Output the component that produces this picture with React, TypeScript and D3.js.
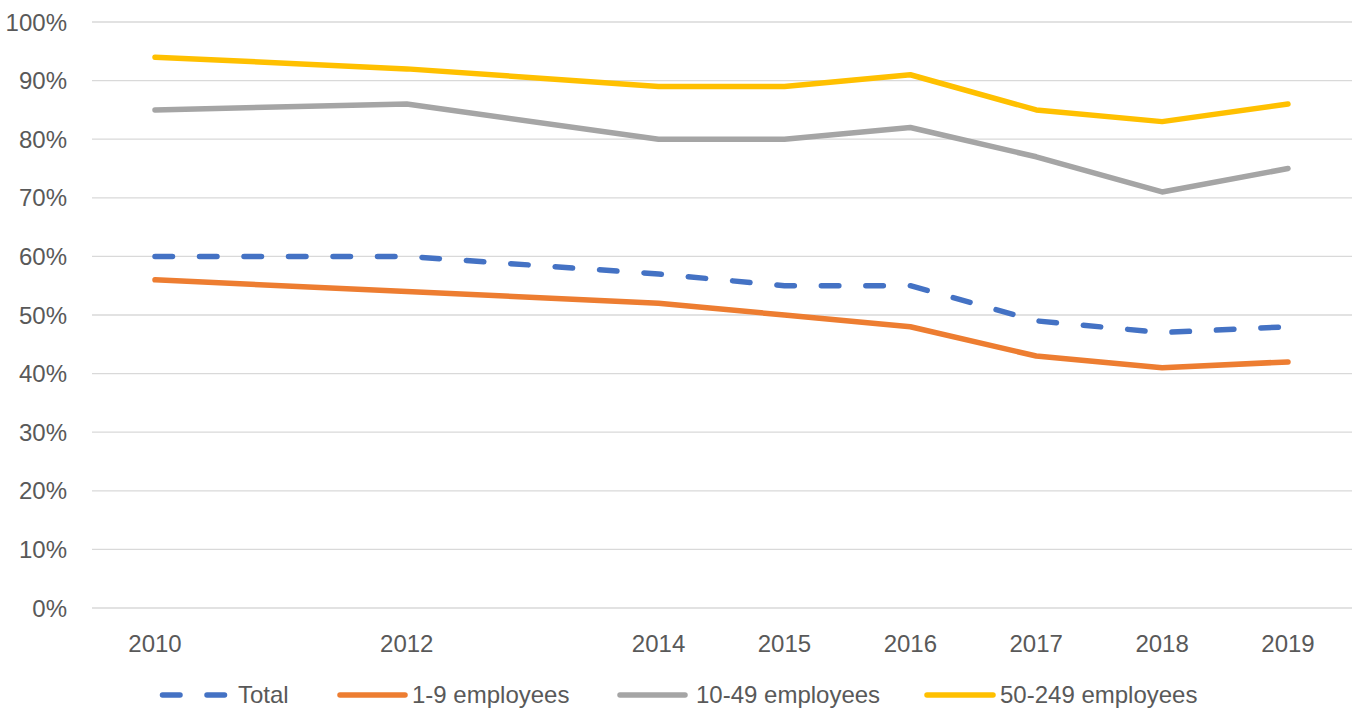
import * as d3 from "d3";
import React from "react";

const years = [2010, 2012, 2014, 2015, 2016, 2017, 2018, 2019];
const total = [60, 60, 57, 55, 55, 49, 47, 48];
const micro = [56, 54, 52, 50, 48, 43, 41, 42];
const small = [85, 86, 80, 80, 82, 77, 71, 75];
const medium = [94, 92, 89, 89, 91, 85, 83, 86];
const yTicks = [0, 10, 20, 30, 40, 50, 60, 70, 80, 90, 100];
const seriesNames = ["Total", "1-9 employees", "10-49 employees", "50-249 employees"];
const seriesColors = ["#4472C4", "#ED7D31", "#A5A5A5", "#FFC000"];

const W = 1352,
  H = 708;
const FONT = "'Liberation Sans', Arial, sans-serif";
const TEXT = "#595959";
const DASH = "17.5 27";

export default function App() {
  const x = d3.scaleLinear().domain([2010, 2019]).range([155, 1288]);
  const y = d3.scaleLinear().domain([0, 100]).range([608, 22]);

  const allSeries = [total, micro, small, medium];
  const line = d3
    .line<number>()
    .x((d, i) => x(years[i]))
    .y((d) => y(d));

  // legend symbol spans and text starts
  const legendSym = [
    [162.5, 226.5],
    [340, 405],
    [620, 685],
    [927, 993],
  ];
  const legendText = [238, 412, 696, 1000];

  return (
    <svg
      width={W}
      height={H}
      style={{ position: "absolute", left: 0, top: 0, background: "#fff" }}
      fontFamily={FONT}
    >
      {yTicks.map((t) => (
        <g key={t}>
          <line x1={92} x2={1352} y1={y(t)} y2={y(t)} stroke="#d9d9d9" strokeWidth={1.3} />
          <text x={67} y={y(t) + 8.5} textAnchor="end" fontSize={24} fill={TEXT}>
            {t + "%"}
          </text>
        </g>
      ))}
      {years.map((yr) => (
        <text key={yr} x={x(yr)} y={652} textAnchor="middle" fontSize={24} fill={TEXT}>
          {yr}
        </text>
      ))}
      {allSeries
        .map((s, i) => ({ s, i }))
        .reverse()
        .map(({ s, i }) => (
          <path
            key={i}
            d={line(s) || ""}
            fill="none"
            stroke={seriesColors[i]}
            strokeWidth={5.5}
            strokeLinecap="round"
            strokeLinejoin="round"
            strokeDasharray={i === 0 ? DASH : undefined}
          />
        ))}
      {seriesNames.map((name, i) => (
        <g key={name}>
          <line
            x1={legendSym[i][0]}
            x2={legendSym[i][1]}
            y1={695}
            y2={695}
            stroke={seriesColors[i]}
            strokeWidth={5.5}
            strokeLinecap="round"
            strokeDasharray={i === 0 ? DASH : undefined}
          />
          <text x={legendText[i]} y={703} fontSize={24} fill={TEXT}>
            {name}
          </text>
        </g>
      ))}
    </svg>
  );
}
